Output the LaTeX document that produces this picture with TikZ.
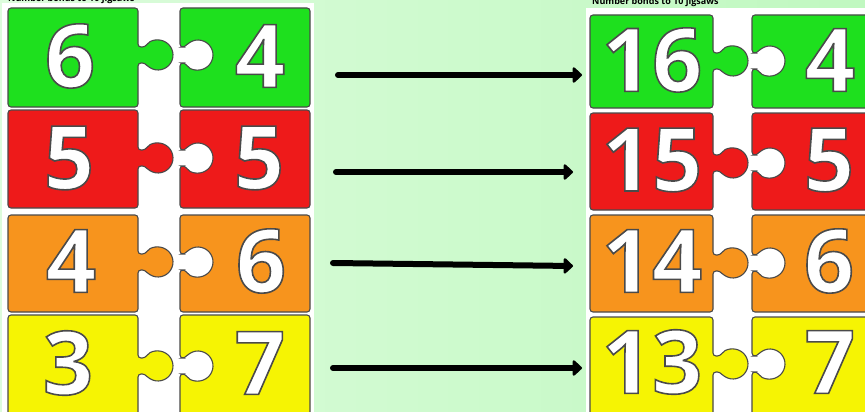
\documentclass[tikz,border=0pt]{standalone}
\usepackage{fontspec}
\setmainfont{Open Sans}
\usetikzlibrary{arrows.meta}
\definecolor{BondGreen}{HTML}{1EE01E}
\definecolor{BondRed}{HTML}{EE1A1A}
\definecolor{BondOrange}{HTML}{F7941D}
\definecolor{BondYellow}{HTML}{F6F403}
\definecolor{PieceEdge}{HTML}{4A4A4A}
\definecolor{BgLeft}{HTML}{DCFCDC}
\definecolor{BgRight}{HTML}{C0F8C0}
% white number with a dark rim (fill and stroke text mode)
\newcommand{\rimmed}[1]{\special{pdf:literal direct 2 Tr 1.6 w 0.29 0.29 0.29 RG}#1\special{pdf:literal direct 0 Tr}}
\tikzset{
    % jigsaw pieces
    piece/.style={
        draw=PieceEdge,
        line width=1.1pt,
        rounded corners=3pt
    },
    panel/.style={
        fill=white,
        draw=none
    },
    digit/.style={
        inner sep=0pt,
        text=white,
        font=\fontsize{88}{88}\selectfont\bfseries
    },
    title text/.style={
        inner sep=0pt,
        anchor=base west,
        font=\fontsize{9}{9}\selectfont\bfseries
    },
    bond arrow/.style={
        -{Triangle[round, length=10pt, width=18pt]},
        line width=6pt,
        line cap=round,
        color=black
    }
}
% piece with a knob on its right side: x0, x1, ytop, ybot, knob y, colour
\newcommand{\tabpiece}[6]{%
  \draw[piece, fill=#6] (#1,#3) -- (#2,#3) -- (#2,#5-8) -- ++(7.3,0)
    arc[start angle=-147.8, end angle=147.8, radius=15] -- (#2,#5+8)
    -- (#2,#4) -- (#1,#4) -- cycle;}
% piece with a hole on its left side: x0, x1, ytop, ybot, hole y, colour
\newcommand{\holepiece}[6]{%
  \draw[piece, fill=#6] (#1,#3) -- (#2,#3) -- (#2,#4) -- (#1,#4) -- (#1,#5+8)
    -- ++(5.3,0) arc[start angle=147.8, end angle=-147.8, radius=15]
    -- (#1,#5-8) -- cycle;}

\begin{document}
\begin{tikzpicture}[x=1pt, y=-1pt]
    \useasboundingbox (0,0) rectangle (865,412);
    \shade[left color=BgLeft, right color=BgRight] (0,0) rectangle (865,412);

    % Panels
    \fill[panel] (2,3) rectangle (314,420);
    \fill[panel] (586,8) rectangle (870,420);
    \node[title text] (title left) at (8,2) {Number bonds to 10 jigsaws};
    \node[title text] (title right) at (592,5) {Number bonds to 10 jigsaws};

    % Left panel pieces
    \tabpiece{8}{138}{8}{107}{55}{BondGreen}
    \holepiece{180}{310}{8}{107}{55}{BondGreen}
    \tabpiece{8}{138}{110}{208}{158}{BondRed}
    \holepiece{180}{310}{110}{208}{158}{BondRed}
    \tabpiece{8}{138}{215}{312}{262}{BondOrange}
    \holepiece{180}{310}{215}{312}{262}{BondOrange}
    \tabpiece{8}{138}{315}{416}{366}{BondYellow}
    \holepiece{180}{310}{315}{416}{366}{BondYellow}

    % Right panel pieces
    \tabpiece{590}{713}{15}{108}{61}{BondGreen}
    \holepiece{752}{880}{15}{108}{61}{BondGreen}
    \tabpiece{590}{713}{113}{210}{163}{BondRed}
    \holepiece{752}{880}{113}{210}{163}{BondRed}
    \tabpiece{590}{713}{215}{312}{263}{BondOrange}
    \holepiece{752}{880}{215}{312}{263}{BondOrange}
    \tabpiece{590}{713}{317}{416}{364}{BondYellow}
    \holepiece{752}{880}{317}{416}{364}{BondYellow}

    % Numbers
    \node[digit] (six) at (70,56) {\rimmed{6}};
    \node[digit] (four) at (260,56) {\rimmed{4}};
    \node[digit] (five a) at (69,158) {\rimmed{5}};
    \node[digit] (five b) at (259,158) {\rimmed{5}};
    \node[digit] (four b) at (71,261) {\rimmed{4}};
    \node[digit] (six b) at (261,261) {\rimmed{6}};
    \node[digit] (three) at (68,363) {\rimmed{3}};
    \node[digit] (seven) at (260,363) {\rimmed{7}};

    \node[digit] (sixteen) at (652,60) {\rimmed{16}};
    \node[digit] (four c) at (830,60) {\rimmed{4}};
    \node[digit] (fifteen) at (652,160) {\rimmed{15}};
    \node[digit] (five c) at (829,160) {\rimmed{5}};
    \node[digit] (fourteen) at (652,261) {\rimmed{14}};
    \node[digit] (six c) at (829,261) {\rimmed{6}};
    \node[digit] (thirteen) at (652,362) {\rimmed{13}};
    \node[digit] (seven c) at (830,362) {\rimmed{7}};

    % Arrows
    \coordinate (from one) at (338,75);
    \coordinate (to one) at (582,75);
    \coordinate (from two) at (336,172);
    \coordinate (to two) at (573,172);
    \coordinate (from three) at (333,263);
    \coordinate (to three) at (573,266);
    \coordinate (from four) at (333,368);
    \coordinate (to four) at (582,368);
    \draw[bond arrow] (from one) -- (to one);
    \draw[bond arrow] (from two) -- (to two);
    \draw[bond arrow] (from three) -- (to three);
    \draw[bond arrow] (from four) -- (to four);
\end{tikzpicture}
\end{document}
